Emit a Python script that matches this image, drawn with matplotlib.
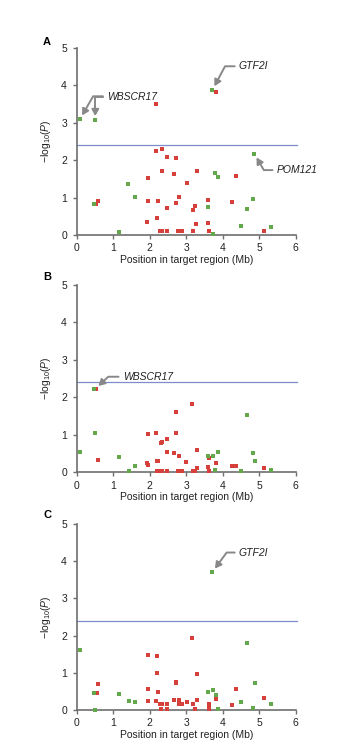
import matplotlib
matplotlib.use("Agg")
import matplotlib.pyplot as plt
import numpy as np

plt.rcParams['font.family'] = ['Liberation Sans', 'DejaVu Sans']
plt.rcParams['mathtext.fontset'] = 'custom'
plt.rcParams['mathtext.rm'] = 'Liberation Sans'
plt.rcParams['mathtext.it'] = 'Liberation Sans:italic'

# ---------------- data ----------------
threshold = 2.4
x_ticks = [0, 1, 2, 3, 4, 5, 6]
y_ticks = [0, 1, 2, 3, 4, 5]
panel_labels = ["A", "B", "C"]

a_green_x = [0.09, 0.51, 3.72, 4.87, 1.41, 1.60, 3.78, 3.86, 0.47, 3.60, 4.84, 4.67, 1.17, 3.73, 4.49, 5.33]
a_green_y = [3.10, 3.07, 3.88, 2.17, 1.36, 1.02, 1.65, 1.56, 0.83, 0.74, 0.97, 0.69, 0.07, 0.03, 0.24, 0.21]
a_red_x = [2.16, 3.81, 2.18, 2.33, 2.47, 2.73, 1.95, 2.34, 2.66, 3.30, 3.01, 4.36, 0.54, 0.59, 1.95, 2.24,
           2.81, 2.73, 2.47, 3.24, 3.18, 3.61, 4.25, 1.93, 2.19, 3.28, 3.61, 2.28, 2.34, 2.47, 2.77, 2.83,
           2.89, 3.18, 3.62, 5.12]
a_red_y = [3.49, 3.83, 2.24, 2.29, 2.09, 2.06, 1.53, 1.70, 1.64, 1.72, 1.40, 1.57, 0.84, 0.91, 0.90, 0.90,
           1.01, 0.86, 0.71, 0.78, 0.68, 0.93, 0.87, 0.36, 0.46, 0.30, 0.32, 0.12, 0.12, 0.12, 0.12, 0.12,
           0.12, 0.12, 0.12, 0.11]

b_green_x = [0.47, 0.51, 0.09, 1.17, 1.42, 1.60, 3.60, 3.73, 3.86, 3.79, 4.49, 4.67, 4.84, 4.89, 5.33]
b_green_y = [2.23, 1.04, 0.55, 0.41, 0.04, 0.16, 0.43, 0.43, 0.54, 0.06, 0.03, 1.52, 0.53, 0.30, 0.06]
b_red_x = [0.54, 0.59, 3.17, 2.73, 1.95, 2.16, 2.73, 2.33, 2.31, 2.47, 2.47, 2.66, 2.81, 3.29, 3.00, 1.93,
           1.94, 2.19, 2.24, 3.62, 3.81, 3.30, 3.61, 4.25, 4.36, 5.12, 2.19, 2.26, 2.33, 2.47, 2.77, 2.83,
           2.88, 3.18, 3.25, 3.62]
b_red_y = [2.23, 0.33, 1.82, 1.60, 1.02, 1.06, 1.06, 0.82, 0.78, 0.90, 0.54, 0.51, 0.44, 0.59, 0.28, 0.25,
           0.20, 0.30, 0.30, 0.38, 0.26, 0.12, 0.14, 0.17, 0.17, 0.13, 0.03, 0.03, 0.03, 0.03, 0.03, 0.03,
           0.03, 0.03, 0.03, 0.03]

c_green_x = [3.72, 0.09, 0.48, 0.51, 1.17, 1.42, 1.60, 3.60, 3.73, 3.81, 3.86, 4.49, 4.67, 4.89, 4.84, 5.33]
c_green_y = [3.71, 1.62, 0.45, 0.00, 0.42, 0.24, 0.22, 0.49, 0.53, 0.39, 0.04, 0.21, 1.81, 0.72, 0.05, 0.17]
c_red_x = [0.55, 0.59, 3.17, 1.95, 2.19, 2.19, 3.30, 2.73, 2.73, 1.95, 2.24, 1.95, 2.16, 2.66, 2.81, 3.01,
           3.29, 2.28, 2.34, 2.47, 2.79, 2.84, 2.89, 3.18, 3.62, 3.62, 2.32, 2.47, 3.25, 3.62, 3.82, 4.36,
           4.25, 5.12]
c_red_y = [0.45, 0.70, 1.94, 1.49, 1.46, 1.00, 0.96, 0.76, 0.72, 0.56, 0.48, 0.25, 0.25, 0.27, 0.27, 0.22,
           0.28, 0.16, 0.16, 0.16, 0.16, 0.16, 0.16, 0.16, 0.16, 0.09, 0.04, 0.04, 0.04, 0.02, 0.29, 0.57,
           0.14, 0.31]

# annotations: (label, point x, point y)
a_annotations = [("GTF2I", 3.72, 3.88), ("POM121", 4.87, 2.17)]
a_wbscr = ("WBSCR17", [(0.09, 3.10), (0.51, 3.07)])
b_annotations = [("WBSCR17", 0.51, 2.23)]
c_annotations = [("GTF2I", 3.72, 3.71)]

# ---------------- style ----------------
GREEN = '#64a84c'
RED = '#d6403b'
BLUE = '#7f8ccf'
SPINE = '#6e6e6e'
ARROW = '#888888'
FS = 7.5

W, H = 350, 756
fig = plt.figure(figsize=(W / 100, H / 100), dpi=100)

def px_axes(left, top, right, bottom):
    return [left / W, 1 - bottom / H, (right - left) / W, (bottom - top) / H]

rects = [px_axes(76.7, 48, 295.7, 235),
         px_axes(76.7, 285, 295.7, 472.4),
         px_axes(76.7, 524, 295.7, 710)]
letter_pos = [(47, 41.7), (47, 277.5), (47, 515)]

panels = [(a_green_x, a_green_y, a_red_x, a_red_y),
          (b_green_x, b_green_y, b_red_x, b_red_y),
          (c_green_x, c_green_y, c_red_x, c_red_y)]

axes = []
for i, (rect, (gx, gy, rx, ry)) in enumerate(zip(rects, panels)):
    ax = fig.add_axes(rect)
    axes.append(ax)
    ax.set_xlim(0, 6)
    ax.set_ylim(0, 5)
    ax.axhline(threshold, xmin=0, xmax=1.005, color=BLUE, lw=0.9, clip_on=False, zorder=1)
    ax.scatter(rx, ry, marker='s', s=11, color=RED, linewidths=0, clip_on=False, zorder=3)
    ax.scatter(gx, gy, marker='s', s=11, color=GREEN, linewidths=0, clip_on=False, zorder=3)
    for side in ['top', 'right']:
        ax.spines[side].set_visible(False)
    for side in ['left', 'bottom']:
        ax.spines[side].set_color(SPINE)
        ax.spines[side].set_linewidth(1.2)
    ax.set_xticks(x_ticks)
    ax.set_yticks(y_ticks)
    ax.tick_params(axis='both', direction='out', length=3, width=1.0, color=SPINE,
                   labelsize=FS, labelcolor='#222222')
    ax.tick_params(axis='x', pad=3)
    ax.tick_params(axis='y', pad=4)
    ax.set_xlabel('Position in target region (Mb)', fontsize=FS, color='#222222')
    ax.set_ylabel(r'$-$log$_{10}$($\it{P}$)', fontsize=FS, color='#222222')
    ax.xaxis.set_label_coords(0.5, -20 / 187)
    ax.yaxis.set_label_coords(-24 / 219, 0.5)
    lx, ly = letter_pos[i]
    fig.text(lx / W, 1 - ly / H, panel_labels[i], fontsize=8, fontweight='bold',
             ha='center', va='center')

arrowkw = dict(arrowstyle='-|>,head_length=0.5,head_width=0.28', color=ARROW, lw=1.4,
               shrinkA=1, shrinkB=3)

def annot(ax, label, x, y, dx, dy, angB):
    ax.annotate(label, xy=(x, y), xytext=(dx, dy), textcoords='offset points',
                fontsize=FS, fontstyle='italic', color='#222222', ha='left', va='center',
                arrowprops=dict(connectionstyle=f'angle,angleA=0,angleB={angB},rad=0', **arrowkw))

# Panel A
annot(axes[0], a_annotations[0][0], a_annotations[0][1], a_annotations[0][2], 19, 17, 62)
annot(axes[0], a_annotations[1][0], a_annotations[1][1], a_annotations[1][2], 16, -11.7, -60)
lab, pts = a_wbscr
(x1, y1), (x2, y2) = pts
axes[0].annotate(lab, xy=(x2, y2), xytext=(8.5, 17), textcoords='offset points',
                 fontsize=FS, fontstyle='italic', color='#222222', ha='left', va='center',
                 arrowprops=dict(connectionstyle='angle,angleA=0,angleB=90,rad=0', **arrowkw))
# second branch of the WBSCR17 arrow, to the first point
axes[0].annotate(' ', xy=(x1, y1), xytext=(19.5, 16.4), textcoords='offset points',
                 fontsize=FS, ha='left', va='center',
                 arrowprops=dict(connectionstyle='angle,angleA=0,angleB=60,rad=0', **arrowkw))

# Panel B
annot(axes[1], b_annotations[0][0], b_annotations[0][1], b_annotations[0][2], 19.7, 8.7, 43)
# Panel C
annot(axes[2], c_annotations[0][0], c_annotations[0][1], c_annotations[0][2], 19, 14, 54)

fig.savefig('out.png', dpi=100)
